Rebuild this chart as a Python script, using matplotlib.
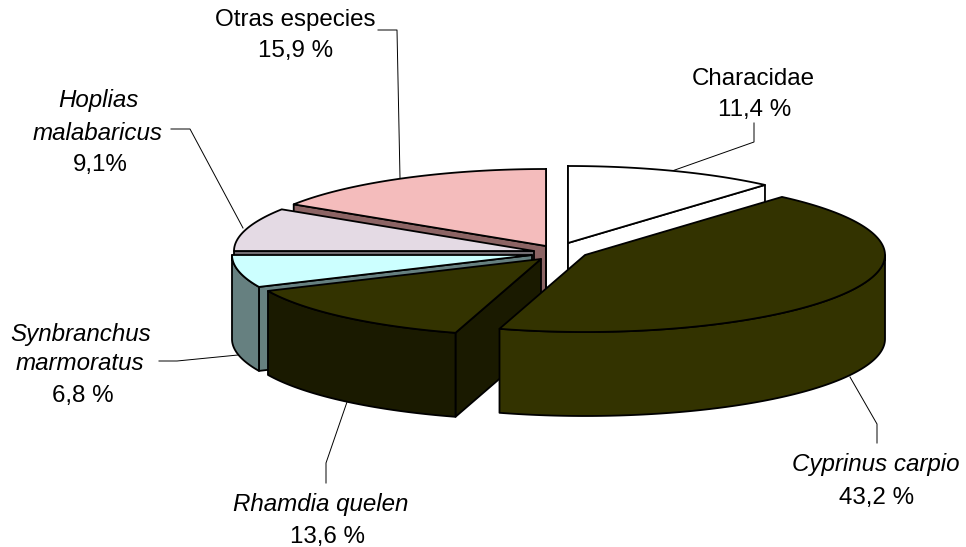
"""Exploded 3D pie - composicion de especies"""
import matplotlib
matplotlib.use('Agg')
import matplotlib.pyplot as plt
from matplotlib.patches import Polygon
import numpy as np

plt.rcParams['font.family'] = ['Liberation Sans', 'DejaVu Sans']

# ── Data ──────────────────────────────────────────────────────────────────
species = ['Characidae', 'Cyprinus carpio', 'Rhamdia quelen',
           'Synbranchus marmoratus', 'Hoplias malabaricus', 'Otras especies']
share = [11.4, 43.2, 13.6, 6.8, 9.1, 15.9]
share_text = ['11,4 %', '43,2 %', '13,6 %', '6,8 %', '9,1%', '15,9 %']

# ── Styles / layout (pixel coords of the 966x547 picture) ─────────────────
TOP = ['#ffffff', '#333300', '#333300', '#ccffff', '#e4dae4', '#f4bcbc']
SIDE = ['#ffffff', '#333300', '#1a1a00', '#668080', '#726d72', '#8c6464']
APEX = [(568, 243), (585, 255), (541, 259), (532, 255), (534, 251), (546, 246)]
ITALIC = [False, True, True, True, True, False]
RX, RY, DEPTH = 300, 77, 84
LW = 1.3
FS = 17.4

fig = plt.figure(figsize=(9.66, 5.47), dpi=100, facecolor='white')
ax = fig.add_axes([0, 0, 1, 1])
ax.set_xlim(0, 966)
ax.set_ylim(547, 0)
ax.axis('off')

edges = np.concatenate([[0], np.cumsum(share) / np.sum(share) * 2 * np.pi])


def rim(c, t):
    return np.column_stack([c[0] + RX * np.sin(t), c[1] - RY * np.cos(t)])


def wall(pts, col, z):
    low = pts + [0, DEPTH]
    ax.add_patch(Polygon(np.vstack([pts, low[::-1]]), closed=True, fc=col,
                         ec='black', lw=LW, joinstyle='round', zorder=z))


# back to front: which slice covers which
for n, i in enumerate([5, 0, 4, 3, 2, 1]):
    c = np.array(APEX[i], dtype=float)
    t0, t1 = edges[i], edges[i + 1]
    z = n * 3 + 1
    # radial walls that face the viewer
    for t in (t0, t1):
        if i in (0, 5) or (t == t0 and i in (2, 3, 4)):
            wall(np.vstack([c, rim(c, np.array([t]))]), SIDE[i], z)
    # outer wall, only the front half of the ellipse shows
    a, b = max(t0, np.pi / 2), min(t1, 3 * np.pi / 2)
    if b > a:
        wall(rim(c, np.linspace(a, b, 120)), SIDE[i], z + 1)
    arc = rim(c, np.linspace(t0, t1, 160))
    ax.add_patch(Polygon(np.vstack([c, arc]), closed=True, fc=TOP[i],
                         ec='black', lw=LW, joinstyle='round', zorder=z + 2))

# ── Leader lines ──────────────────────────────────────────────────────────
leaders = [
    [(672, 171), (754, 142), (754, 123)],
    [(850, 377), (877, 424), (877, 443)],
    [(347, 402), (326, 463), (326, 483)],
    [(238, 355), (177, 361), (159, 361)],
    [(243, 228), (190, 129), (171, 129)],
    [(400, 178), (397, 30), (378, 30)],
]
for pts in leaders:
    xs, ys = zip(*pts)
    ax.plot(xs, ys, color='black', lw=0.7, zorder=0)

# ── Labels ────────────────────────────────────────────────────────────────
txt = dict(ha='center', va='center', fontsize=FS, color='black')
name_lines = [
    [(753, 79, species[0])],
    [(876, 465, species[1])],
    [(321, 505, species[2])],
    [(81, 335, species[3].split()[0]), (80, 364, species[3].split()[1])],
    [(98, 101, species[4].split()[0]), (98, 133, species[4].split()[1])],
    [(295, 20, species[5])],
]
pct_pos = [(755, 110), (877, 498), (328, 537), (83, 396), (100, 165), (296, 51)]
for i, lines in enumerate(name_lines):
    for x, y, s in lines:
        ax.text(x, y, s, style='italic' if ITALIC[i] else 'normal', **txt)
    ax.text(pct_pos[i][0], pct_pos[i][1], share_text[i], **txt)

fig.savefig('out.png', dpi=100, facecolor='white')
